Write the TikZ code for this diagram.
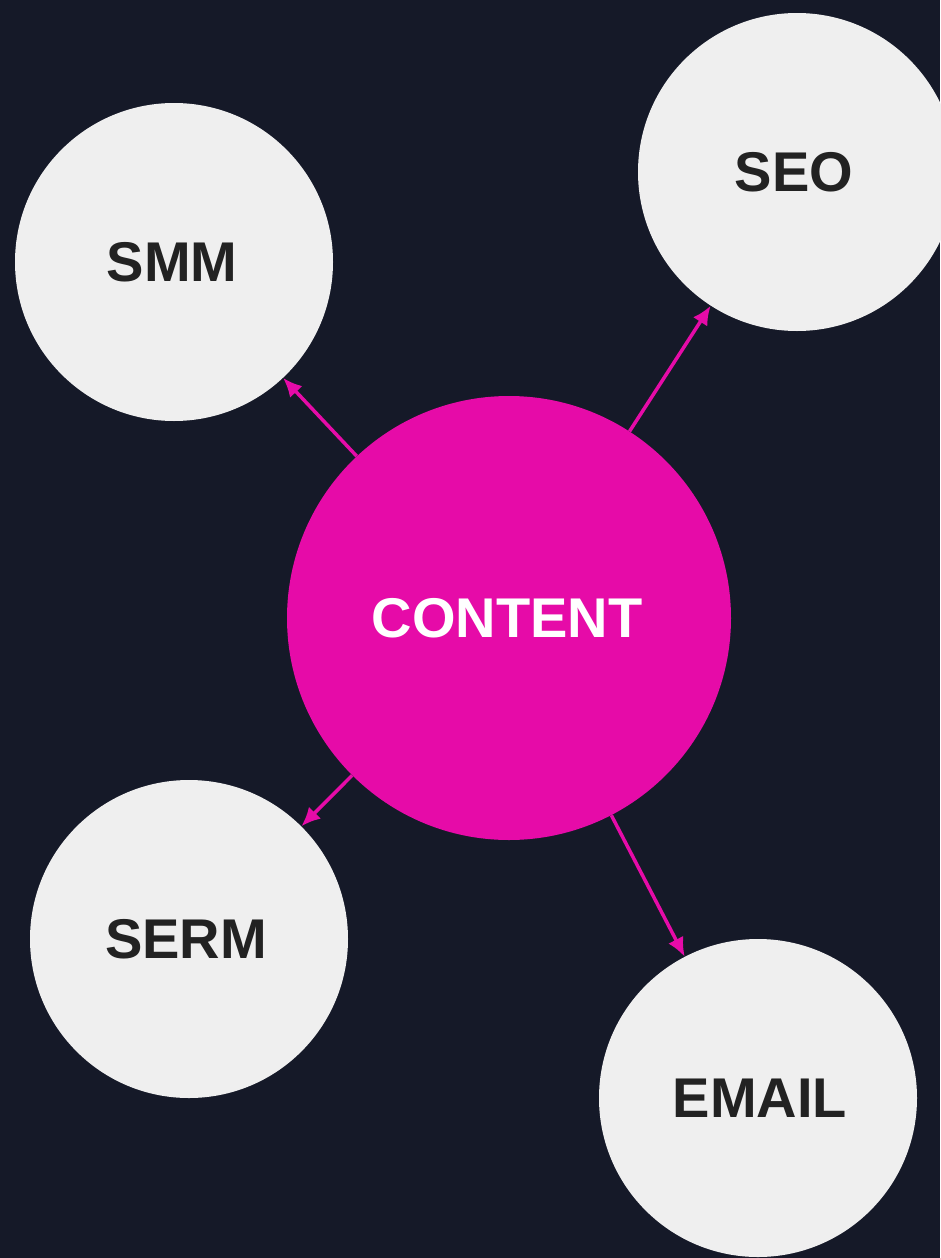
\documentclass[tikz,border=0pt]{standalone}
\usepackage{fontspec}
\setmainfont{Liberation Sans}
\usetikzlibrary{arrows.meta}
\definecolor{bgc}{HTML}{151928}
\definecolor{mag}{HTML}{E60BA8}
\definecolor{lite}{HTML}{EFEFEF}
\definecolor{ink}{HTML}{222222}
\begin{document}
\begin{tikzpicture}[x=1pt,y=-1pt,
  satellite/.style={circle,fill=lite,minimum size=318pt,inner sep=0pt,text=ink,font=\fontsize{56}{60}\selectfont\bfseries},
  hub/.style={circle,fill=mag,minimum size=444pt,inner sep=0pt,text=white,font=\fontsize{56}{60}\selectfont\bfseries},
  link/.style={draw=mag,line width=3.5pt,-{Latex[length=19pt,width=17pt]}}]
\fill[bgc] (0,0) rectangle (940,1258);
\useasboundingbox (0,0) rectangle (940,1258);
\node[satellite] (smm) at (174,262) {\kern-4pt SMM};
\node[satellite] (seo) at (797,172) {\kern-6pt SEO};
\node[satellite] (serm) at (189,939) {\kern-6pt SERM};
\node[satellite] (email) at (758,1098) {\kern4pt EMAIL};
\node[hub] (content) at (509,618) {\kern-4pt CONTENT};
\draw[link] (content) -- (smm);
\draw[link] (content) -- (seo);
\draw[link] (content) -- (serm);
\draw[link] (content) -- (email);
\end{tikzpicture}
\end{document}
